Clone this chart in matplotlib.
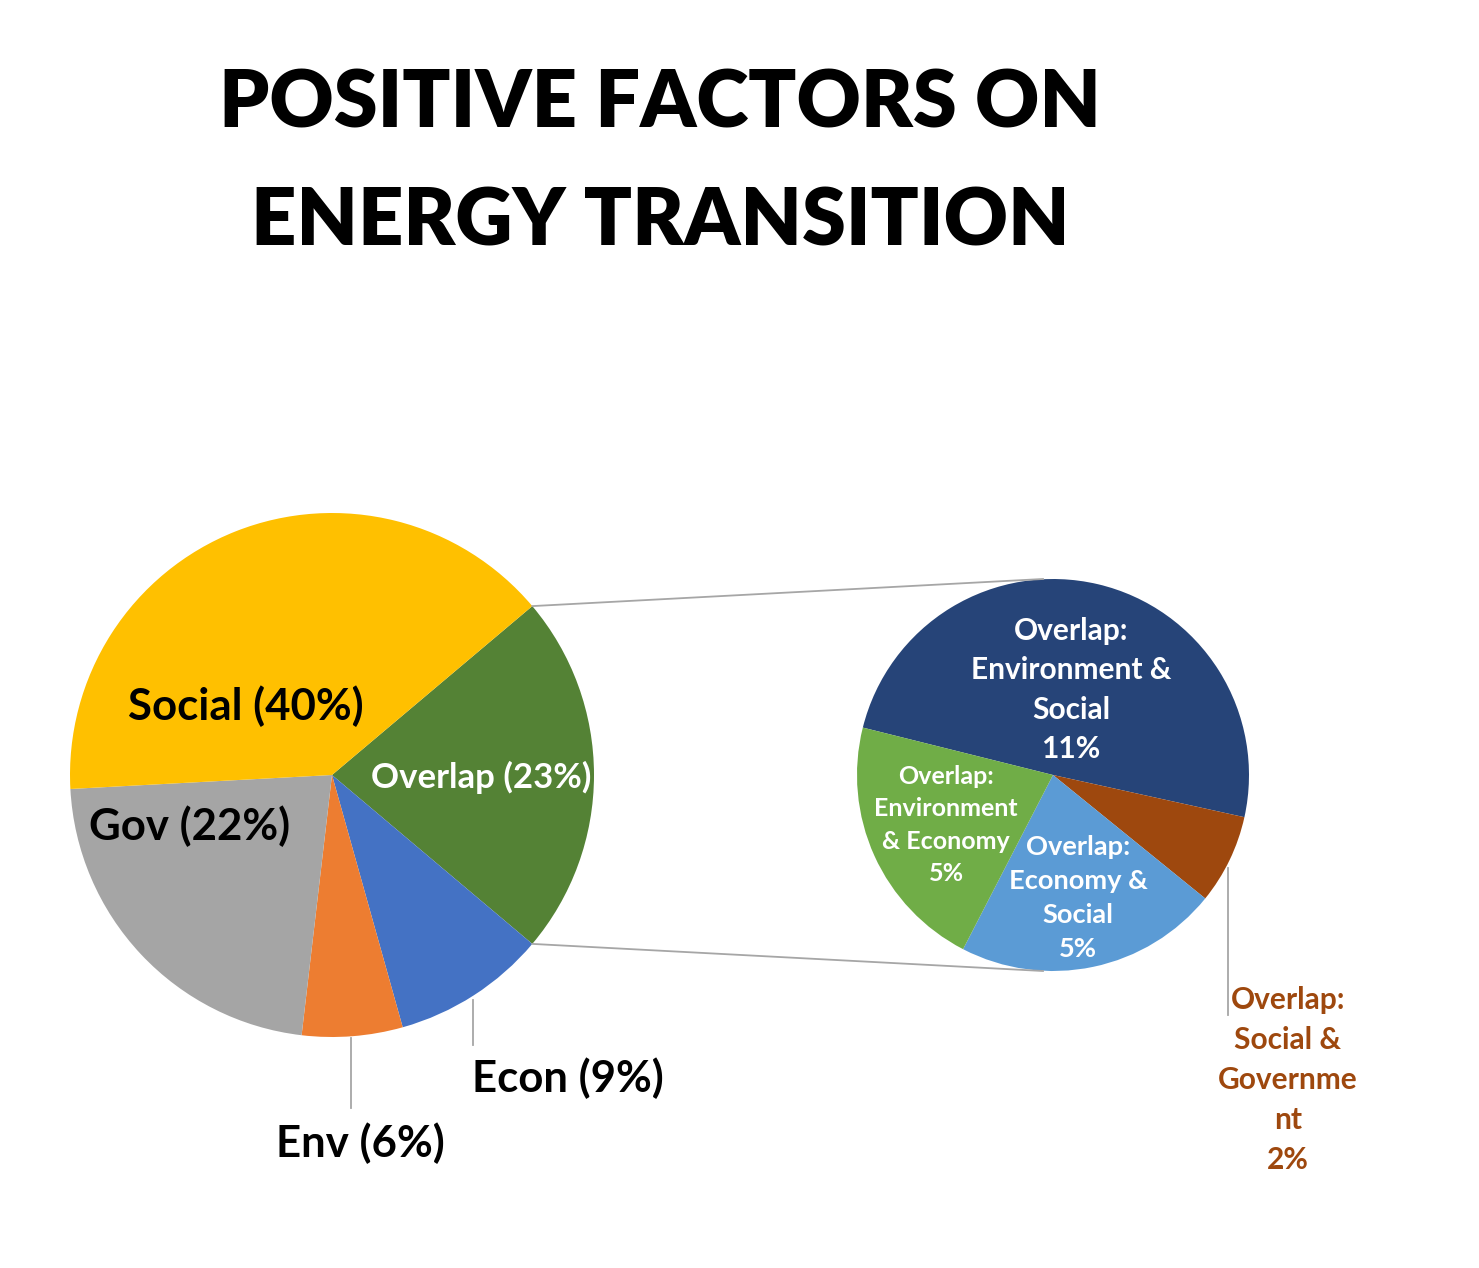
import matplotlib.pyplot as plt
import numpy as np

plt.rcParams['font.family'] = ['Lato', 'DejaVu Sans']

# main pie
main_labels = ['Overlap (23%)', 'Econ (9%)', 'Env (6%)', 'Gov (22%)', 'Social (40%)']
main_values = [22.3, 9.5, 6.2, 22.3, 39.7]
main_colors = ['#548235', '#4472C4', '#ED7D31', '#A5A5A5', '#FFC000']

# breakdown of the overlap slice
sub_labels = ['Overlap:\nEnvironment &\nSocial\n11%',
              'Overlap:\nSocial &\nGovernme\nnt\n2%',
              'Overlap:\nEconomy &\nSocial\n5%',
              'Overlap:\nEnvironment\n& Economy\n5%']
sub_values = [11.4, 1.7, 5.0, 4.9]
sub_colors = ['#264478', '#9E480E', '#5B9BD5', '#70AD47']

W, H = 1479, 1268
fig = plt.figure(figsize=(W / 100, H / 100), dpi=100)
ax = fig.add_axes([0, 0, 1, 1])

c1, r1 = (332, H - 775), 262
c2, r2 = (1053, H - 775), 196

start1 = 360 * main_values[0] / sum(main_values) / 2
ax.pie(main_values, colors=main_colors, center=c1, radius=r1,
       startangle=start1, counterclock=False, frame=True)
ax.pie(sub_values, colors=sub_colors, center=c2, radius=r2,
       startangle=166, counterclock=False, frame=True)
ax.set_xlim(0, W)
ax.set_ylim(0, H)
ax.set_aspect('equal')
ax.axis('off')

# connector lines
grey = '#A6A6A6'
a = np.deg2rad(start1)
ax.plot([c1[0] + r1 * np.cos(a), c2[0] - 10], [c1[1] + r1 * np.sin(a), c2[1] + r2], color=grey, lw=1.3)
ax.plot([c1[0] + r1 * np.cos(a), c2[0] - 10], [c1[1] - r1 * np.sin(a), c2[1] - r2], color=grey, lw=1.3)

# main pie labels
fs = 31.5
ax.text(246, H - 706, main_labels[4], ha='center', va='center', fontsize=fs, fontweight='bold', color='black')
ax.text(481, H - 777, main_labels[0], ha='center', va='center', fontsize=25, fontweight='bold', color='white')
ax.text(190, H - 826, main_labels[3], ha='center', va='center', fontsize=fs, fontweight='bold', color='black')
ax.text(360, H - 1143, main_labels[2], ha='center', va='center', fontsize=fs, fontweight='bold', color='black')
ax.text(568, H - 1078, main_labels[1], ha='center', va='center', fontsize=fs, fontweight='bold', color='black')
ax.plot([351, 351], [H - 1038, H - 1108], color=grey, lw=1.3)
ax.plot([473, 473], [H - 1000, H - 1045], color=grey, lw=1.3)

# sub pie labels
ax.text(1071, H - 690, sub_labels[0], ha='center', va='center', fontsize=21.5, fontweight='bold',
        color='white', linespacing=1.5)
ax.text(946, H - 825, sub_labels[3], ha='center', va='center', fontsize=18, fontweight='bold',
        color='white', linespacing=1.48)
ax.text(1078, H - 898, sub_labels[2], ha='center', va='center', fontsize=19.6, fontweight='bold',
        color='white', linespacing=1.49)
ax.text(1288, H - 1080, sub_labels[1], ha='center', va='center', fontsize=21.5, fontweight='bold',
        color='#9E480E', linespacing=1.52)
ax.plot([1228, 1228], [H - 868, H - 1015], color=grey, lw=1.3)

ax.text(660, H - 163, 'POSITIVE FACTORS ON\nENERGY TRANSITION', ha='center', va='center',
        fontsize=57, fontweight='heavy', color='black', linespacing=1.76)

fig.savefig('out.png', dpi=100)
